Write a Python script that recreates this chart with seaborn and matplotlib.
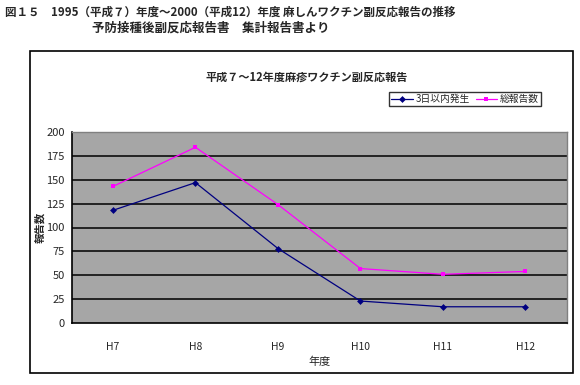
import matplotlib
matplotlib.use("Agg")
import matplotlib.pyplot as plt
import numpy as np
import pandas as pd
import seaborn as sns
from matplotlib.patches import Rectangle

# data
years = ["H7", "H8", "H9", "H10", "H11", "H12"]
within_3_days = [118, 147, 78, 23, 17, 17]
total_reports = [143, 184, 124, 57, 51, 54]
series_names = ["3日以内発生", "総報告数"]
yticks = [0, 25, 50, 75, 100, 125, 150, 175, 200]

df = pd.DataFrame({
    "year": years * 2,
    "count": within_3_days + total_reports,
    "series": [series_names[0]] * len(years) + [series_names[1]] * len(years),
})
df["pos"] = df["year"].map({y: i for i, y in enumerate(years)})

sns.set_theme(style="white")
plt.rcParams["font.family"] = ["Noto Sans CJK JP", "DejaVu Sans"]

W, H = 580, 385
fig = plt.figure(figsize=(W / 100, H / 100), dpi=100)
fig.patch.set_facecolor("white")

# outer chart frame
fig.patches.append(Rectangle((29.7 / W, 1 - 373.3 / H), (573 - 29.7) / W, (373.3 - 50.7) / H,
                             transform=fig.transFigure, fill=False, edgecolor="black", lw=1.2))

ax = fig.add_axes([71.7 / W, 1 - 323 / H, (566.7 - 71.7) / W, (323 - 132) / H])
ax.set_facecolor("#a6a6a6")

palette = {series_names[0]: "#000080", series_names[1]: "#ff00ff"}
markers = {series_names[0]: "D", series_names[1]: "s"}
sns.lineplot(data=df, x="pos", y="count", hue="series", style="series",
             palette=palette, markers=markers, dashes=False, markersize=3.5,
             linewidth=0.9, markeredgewidth=0, ax=ax, legend=False)

ax.set_xlim(-0.5, len(years) - 0.5)
ax.set_ylim(0, 200)
ax.set_yticks(yticks)
ax.set_yticklabels([str(v) for v in yticks], fontsize=8)
ax.set_xticks(range(len(years)))
ax.set_xticklabels(years, fontsize=7.5)
ax.set_xticks(np.arange(-0.5, len(years)), minor=True)
ax.tick_params(axis="x", which="major", length=0, pad=14)
ax.tick_params(axis="x", which="minor", length=3, direction="in", color="black")
ax.tick_params(axis="y", length=3, color="black", pad=2)
for v in yticks[1:]:
    ax.axhline(v, color="black", lw=1.1, zorder=0.5)
for side in ["left", "bottom"]:
    ax.spines[side].set_color("black")
    ax.spines[side].set_linewidth(1.2)
for side in ["top", "right"]:
    ax.spines[side].set_color("#808080")
    ax.spines[side].set_linewidth(1)

ax.set_xlabel("年度", fontsize=8, labelpad=3)
ax.set_ylabel("報告数", fontsize=7.5, fontweight="bold", labelpad=1)

# titles
fig.text(5 / W, 1 - 12 / H, "図１５　1995（平成７）年度～2000（平成12）年度 麻しんワクチン副反応報告の推移",
         fontsize=8.3, fontweight="bold", va="center", ha="left")
fig.text(92 / W, 1 - 28 / H, "予防接種後副反応報告書　集計報告書より",
         fontsize=9, fontweight="bold", va="center", ha="left")
fig.text(307 / W, 1 - 77 / H, "平成７～12年度麻疹ワクチン副反応報告",
         fontsize=8, fontweight="bold", va="center", ha="center")

# legend
handles = [plt.Line2D([], [], color=palette[s], marker=markers[s], markersize=3.5,
                      markeredgewidth=0, lw=0.9) for s in series_names]
leg = fig.legend(handles, series_names, loc="center", ncol=2,
                 bbox_to_anchor=(465 / W, 1 - 99 / H), fontsize=7, frameon=True,
                 fancybox=False, borderpad=0.2, handlelength=2.2, handletextpad=0.3,
                 columnspacing=0.6, borderaxespad=0)
leg.get_frame().set_edgecolor("black")
leg.get_frame().set_linewidth(1)

fig.savefig("out.png", dpi=100)
